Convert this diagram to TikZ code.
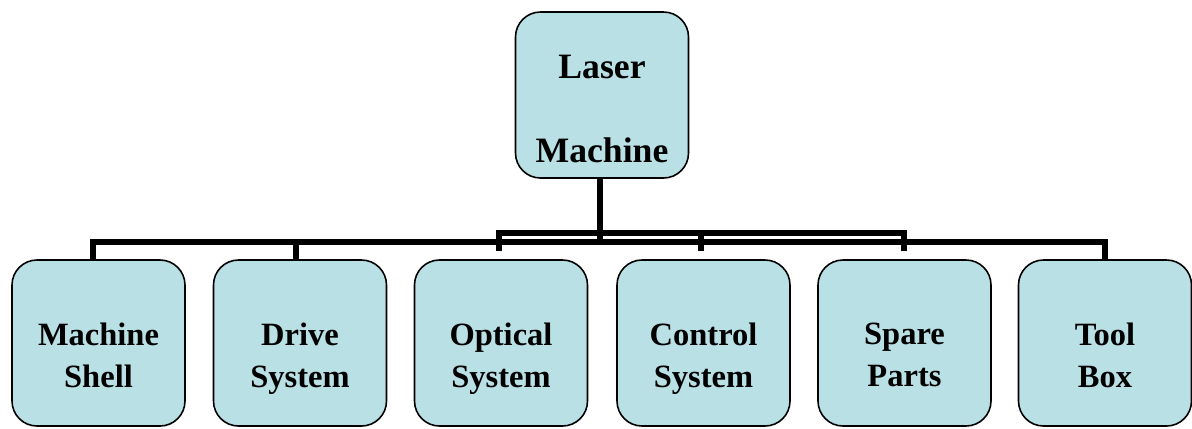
\documentclass[tikz,border=0pt]{standalone}
\usepackage{fontspec}
\setmainfont{Liberation Serif}
\usepackage{tikz}
\usetikzlibrary{calc}
\definecolor{boxfill}{RGB}{185,224,228}

\begin{document}
\begin{tikzpicture}[thick,
    box/.style = {draw, fill=boxfill, line width=0.9pt, rounded corners=0.5cm, minimum width=3.46cm, minimum height=3.32cm, inner sep=0pt},
    txt/.style = {align=center, inner sep=0pt, anchor=north, font=\fontsize{18.5}{23.9}\selectfont\bfseries},
    toptxt/.style = {align=center, inner sep=0pt, anchor=north, font=\fontsize{20.3}{47.8}\selectfont\bfseries},
    link/.style = {line width=0.12cm, line join=miter}]
    \useasboundingbox (0, 0) rectangle (23.84, -8.56);

    \node [box] (laser) at (12.04, -1.90) {};
    \node [box] (shell) at (1.97, -6.86) {};
    \node [box] (drive) at (6.00, -6.86) {};
    \node [box] (optical) at (10.02, -6.86) {};
    \node [box] (control) at (14.07, -6.86) {};
    \node [box] (spare) at (18.09, -6.86) {};
    \node [box] (tool) at (22.10, -6.86) {};

    \node [toptxt] (laser-t) at ([yshift=0.82cm]laser.center) {Laser\\Machine};
    \node [txt] (shell-t) at ([yshift=0.42cm]shell.center) {Machine\\Shell};
    \node [txt] (drive-t) at ([yshift=0.42cm]drive.center) {Drive\\System};
    \node [txt] (optical-t) at ([yshift=0.42cm]optical.center) {Optical\\System};
    \node [txt] (control-t) at ([yshift=0.42cm]control.center) {Control\\System};
    \node [txt] (spare-t) at ([yshift=0.42cm]spare.center) {Spare\\Parts};
    \node [txt] (tool-t) at ([yshift=0.42cm]tool.center) {Tool\\Box};

    \coordinate (low) at (0, -4.84);
    \coordinate (up) at (0, -4.66);

    % trunk and the two bars
    \draw [link] ([xshift=-0.04cm]laser.south) -- ([xshift=-0.04cm]laser.south |- low);
    \draw [link] ([xshift=-0.11cm]shell.north) -- ([xshift=-0.11cm]shell.north |- low) -- (tool.north |- low) -- (tool.north);
    \draw [link] ([xshift=-0.08cm]drive.north) -- ([xshift=-0.08cm]drive.north |- low);
    \draw [link] ([xshift=-0.04cm, yshift=0.16cm]optical.north) -- ([xshift=-0.04cm]optical.north |- up) -- ([xshift=-0.01cm]spare.north |- up) -- ([xshift=-0.01cm, yshift=0.16cm]spare.north);
    \draw [link] ([xshift=-0.05cm]control.north |- up) -- ([xshift=-0.05cm, yshift=0.16cm]control.north);

\end{tikzpicture}
\end{document}
